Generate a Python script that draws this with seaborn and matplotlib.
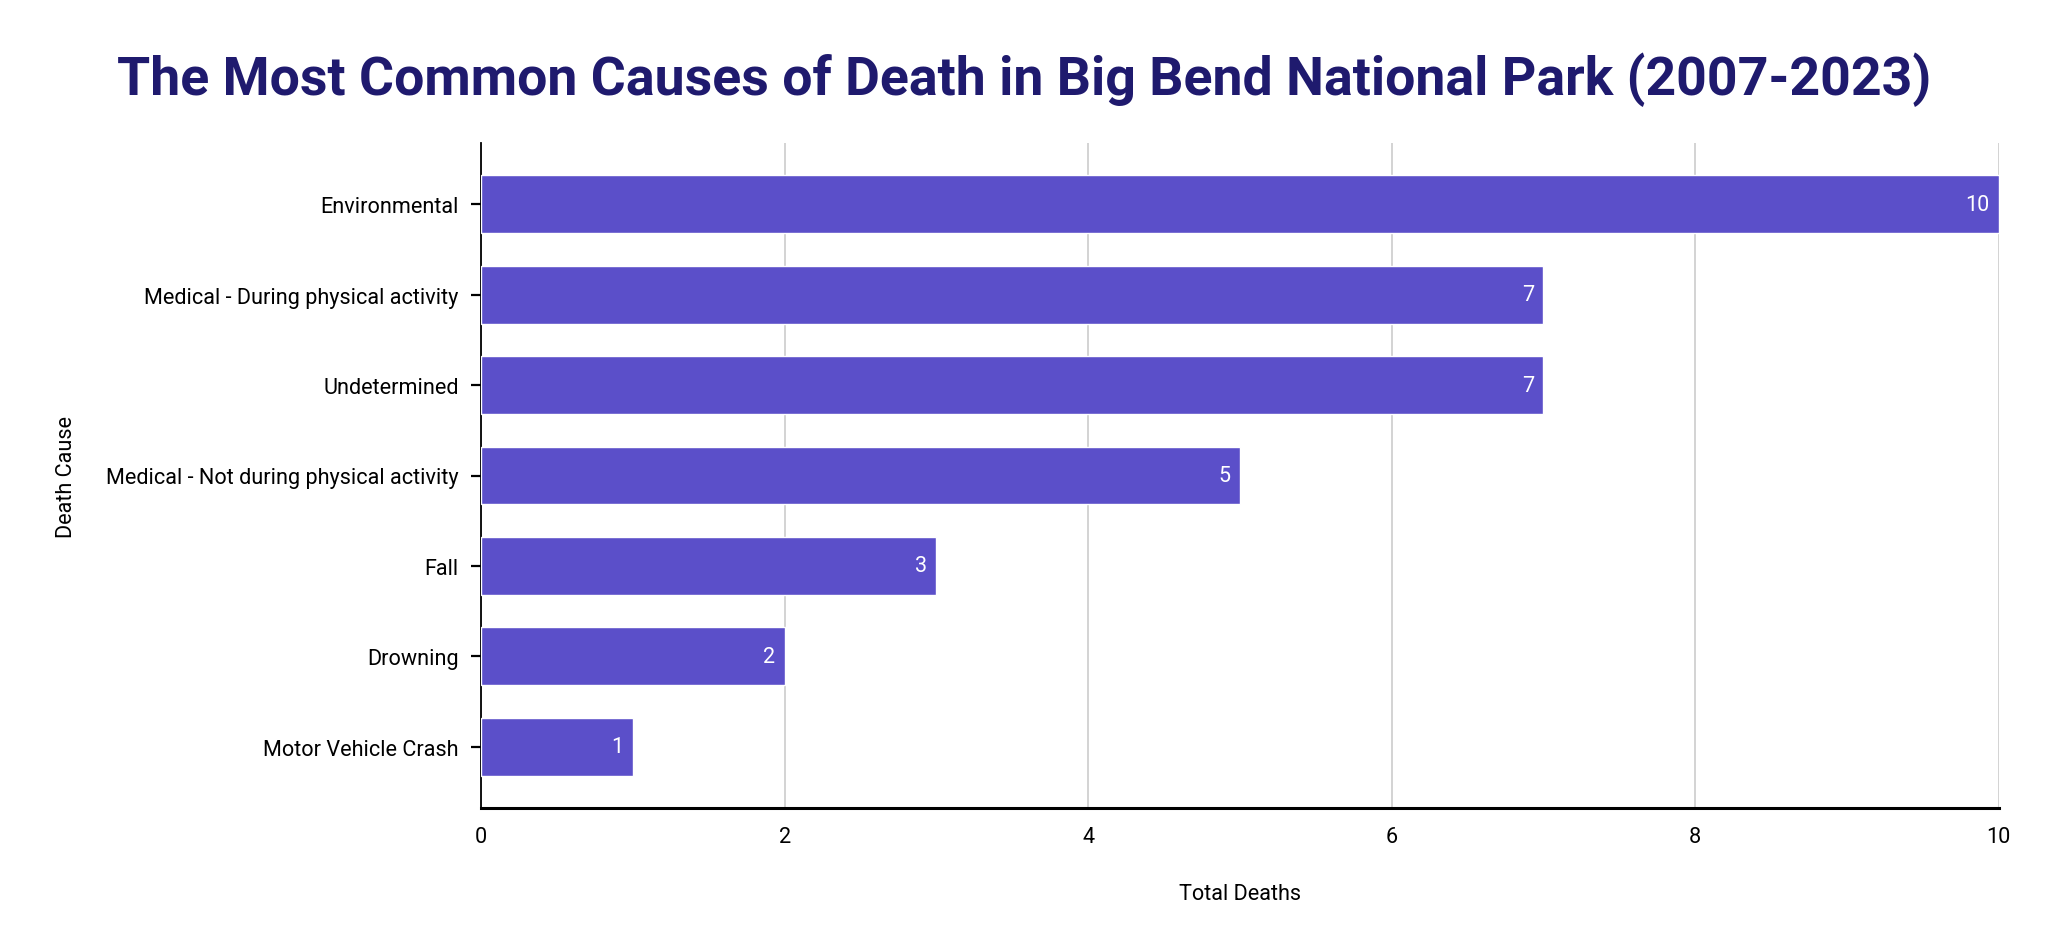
import numpy as np
import matplotlib
matplotlib.use("Agg")
import matplotlib.pyplot as plt
import pandas as pd
import seaborn as sns

# data
causes = ["Environmental", "Medical - During physical activity", "Undetermined",
          "Medical - Not during physical activity", "Fall", "Drowning",
          "Motor Vehicle Crash"]
deaths = [10, 7, 7, 5, 3, 2, 1]

df = pd.DataFrame({"Death Cause": causes, "Total Deaths": deaths})

sns.set_style("white")
plt.rcParams['font.family'] = ['Roboto', 'DejaVu Sans']
plt.rcParams['text.color'] = 'black'
plt.rcParams['axes.labelcolor'] = 'black'
plt.rcParams['xtick.color'] = 'black'
plt.rcParams['ytick.color'] = 'black'

bar_color = "#5b4fc9"
title_color = "#1f1a6e"

fig = plt.figure(figsize=(20.48, 9.53), dpi=100)
ax = fig.add_axes([0.2349, 0.151, 0.7410, 0.698])

sns.barplot(data=df, x="Total Deaths", y="Death Cause", color=bar_color,
            saturation=1, width=0.64, ax=ax, zorder=3)

for p, v in zip(ax.patches, deaths):
    ax.text(v - 0.06, p.get_y() + p.get_height() / 2, str(v), color="white",
            ha="right", va="center", fontsize=15.5, zorder=4)

ax.set_xlim(0, 10)
ax.set_ylim(6.68, -0.68)
ax.set_xticks([0, 2, 4, 6, 8, 10])
ax.xaxis.grid(True, color="#cccccc", linewidth=1.2, zorder=0)
ax.yaxis.grid(False)

for s in ["top", "right"]:
    ax.spines[s].set_visible(False)
ax.spines["left"].set_color("black")
ax.spines["left"].set_linewidth(1.3)
ax.spines["bottom"].set_color("black")
ax.spines["bottom"].set_linewidth(2.2)

ax.tick_params(axis="y", direction="inout", length=14, width=1.6, color="black",
               labelsize=15.6, pad=9, left=True)
ax.tick_params(axis="x", length=0, labelsize=15.6, pad=13)

ax.set_xlabel("Total Deaths", fontsize=15.6, labelpad=26)
ax.set_ylabel("Death Cause", fontsize=15.6, labelpad=21)

fig.suptitle("The Most Common Causes of Death in Big Bend National Park (2007-2023)",
             x=0.5, y=0.916, va="center", fontsize=38.6, fontweight="bold",
             color=title_color)

fig.savefig("out.png", dpi=100, facecolor="white")
